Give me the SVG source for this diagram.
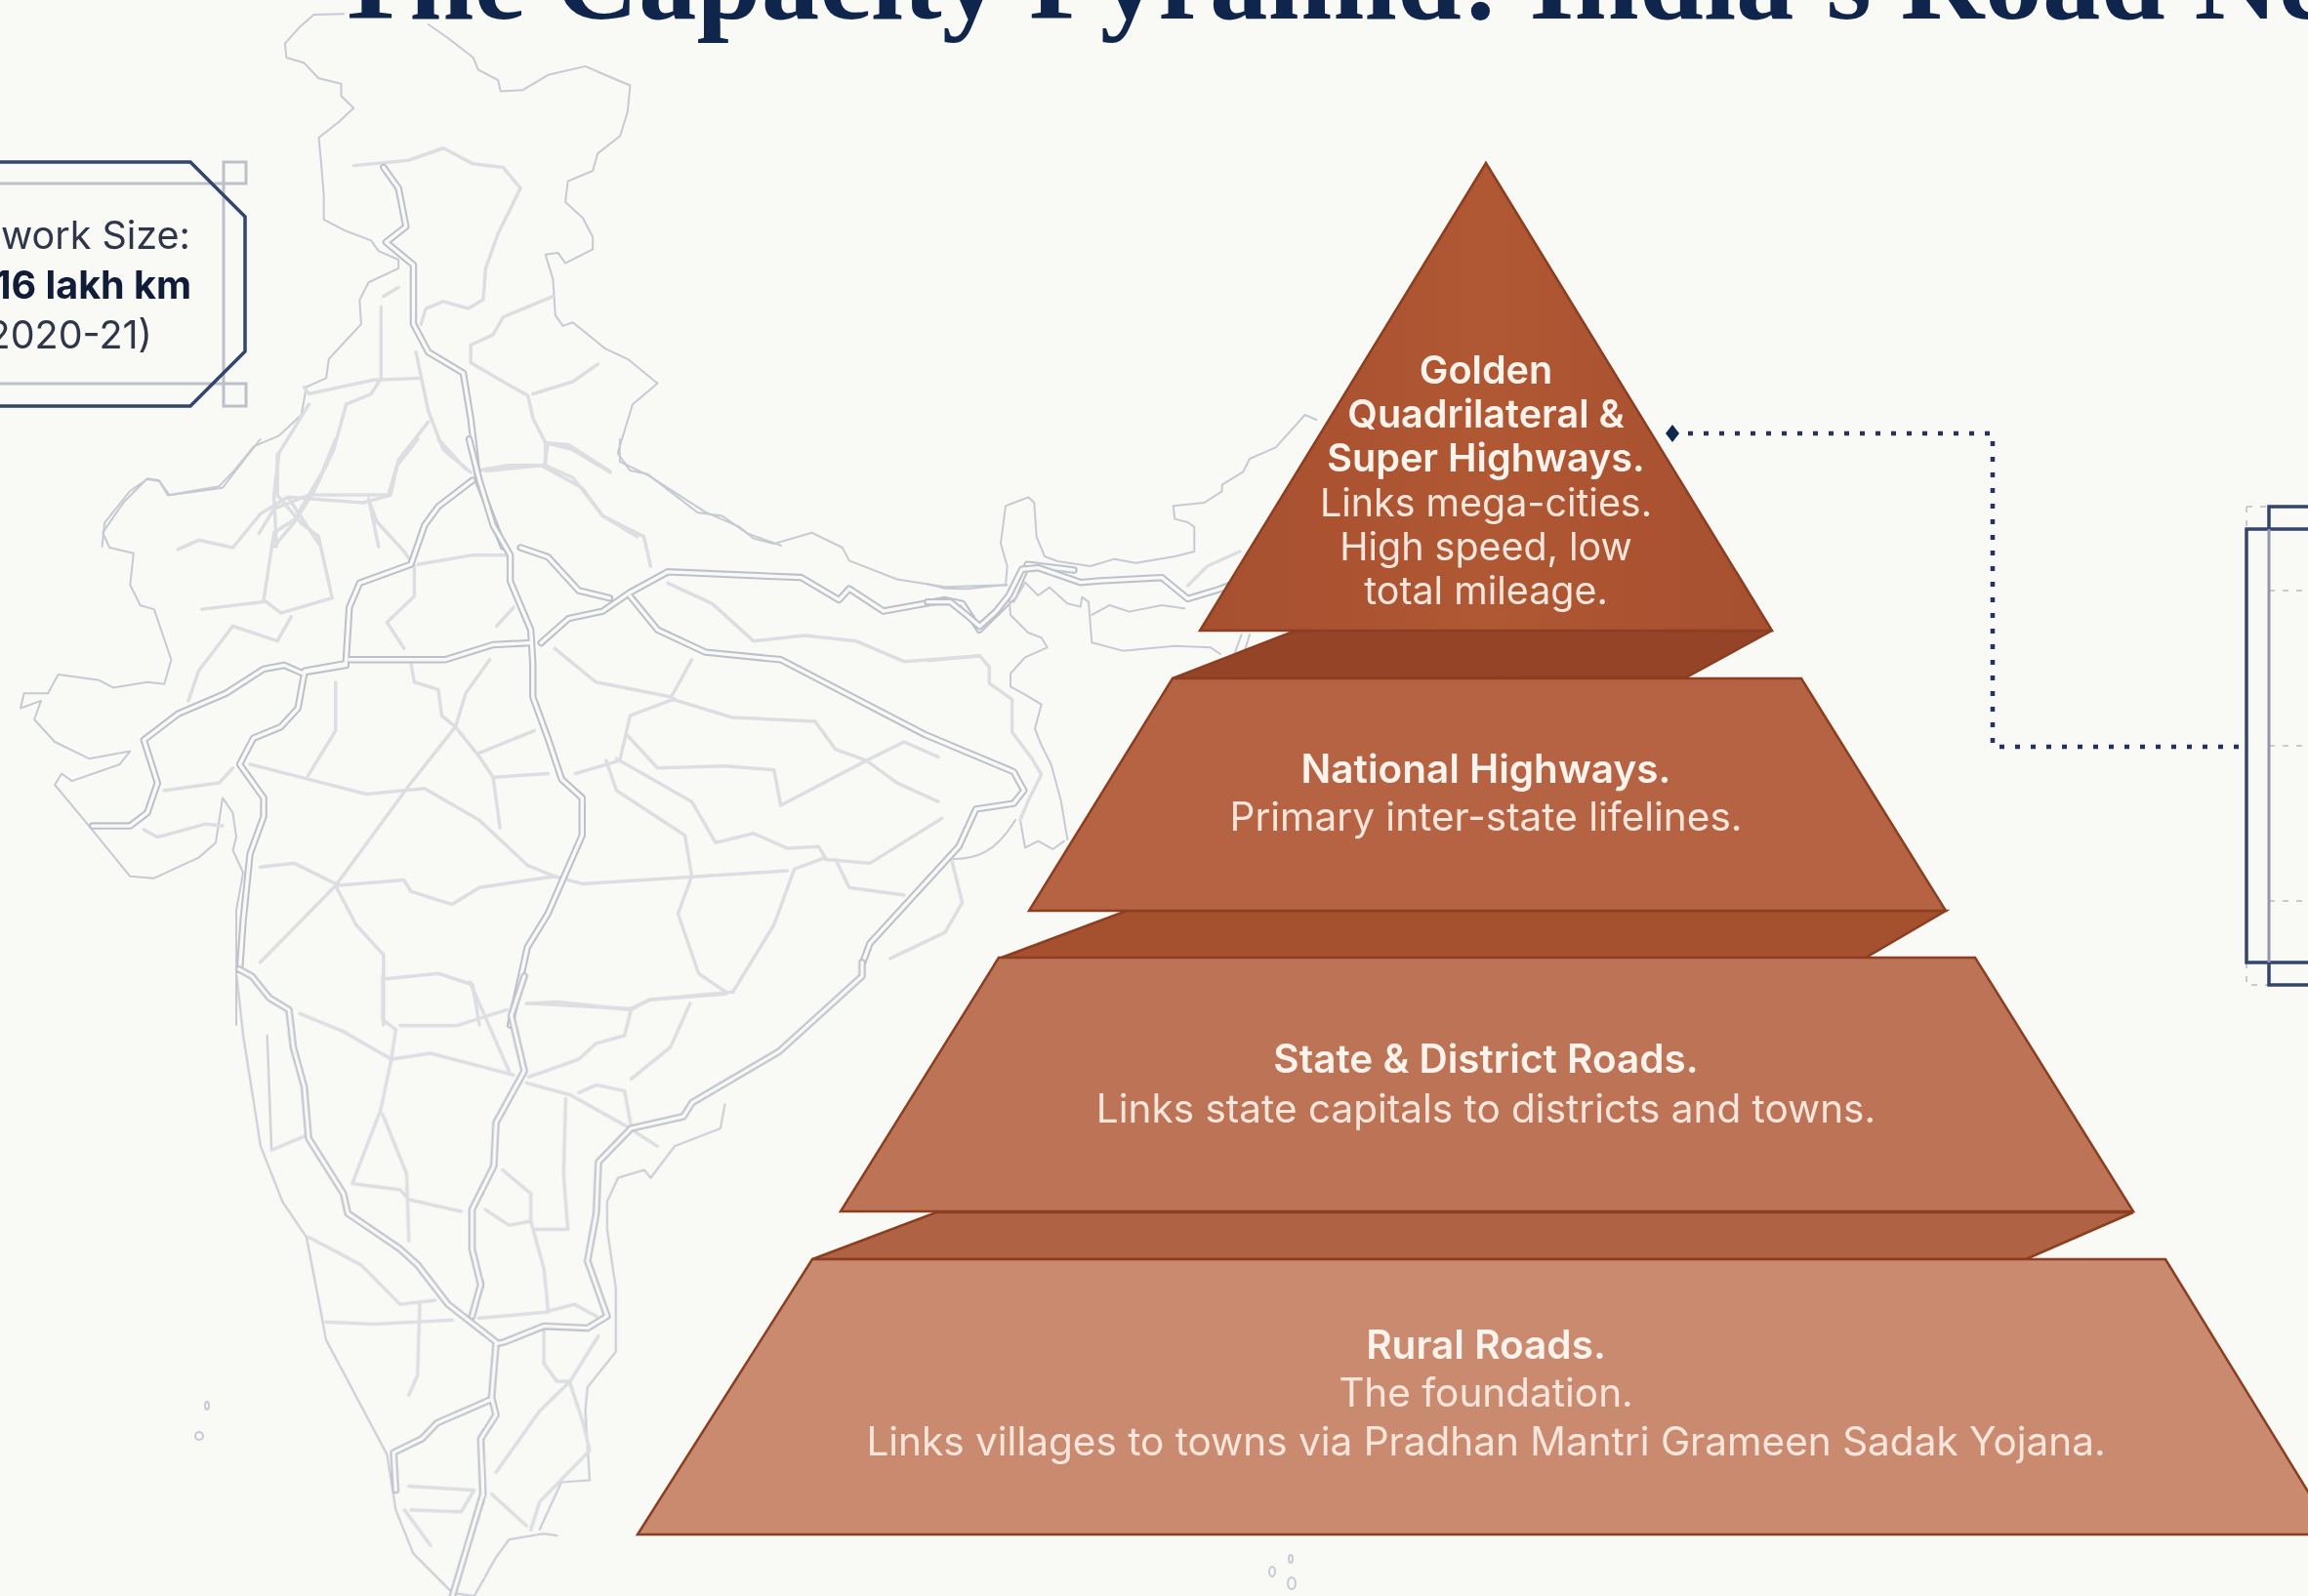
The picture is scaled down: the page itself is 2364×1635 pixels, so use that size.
<svg xmlns="http://www.w3.org/2000/svg" xmlns:xlink="http://www.w3.org/1999/xlink" width="2364" height="1635" viewBox="0 0 2364 1635">
<style>
.map path,.rd path{fill:none;stroke-linejoin:round;stroke-linecap:round;vector-effect:non-scaling-stroke}
.ol path{stroke:#c6cad2;stroke-width:2}
.th path{stroke:#dcdee2;stroke-width:3.5}
.t{font-family:Inter,"Liberation Sans",sans-serif;font-size:40.5px;text-anchor:middle}
.t1{font-size:39.4px}
.b{font-weight:600;fill:#fcf3ed;font-size:40.5px}
.b.t1{font-size:39.6px}
.r{fill:#f8e6dc}
.tier{stroke:#8b3e20;stroke-width:2.5;stroke-linejoin:miter}
.c{font-family:Inter,"Liberation Sans",sans-serif;font-size:39.5px;text-anchor:end;fill:#2e3648}
.cb{font-weight:700;fill:#101c38}
.lg{fill:none;stroke:#bcc0c8;stroke-width:3}
.nv{fill:none;stroke:#33456b;stroke-width:3.5}
.dl{fill:none;stroke:#c9cbce;stroke-width:2;stroke-dasharray:6 8}
</style>
<defs>
<filter id="soft" x="-2%" y="-2%" width="104%" height="104%"><feGaussianBlur stdDeviation="0.7"/></filter>
<marker id="dia" markerWidth="18" markerHeight="20" refX="9" refY="10" markerUnits="userSpaceOnUse"><path d="M9,1 L16,10 L9,19 L2,10 Z" fill="#10264f"/></marker>
<g id="hz1" class="rd"><path d="M770,480 L800,540 L815,650 L775,695 L830,760 L830,930 L860,1010 L930,1070 L945,1200 L960,1380 L1010,1568"/></g>
<g id="hz4" class="rd"><path d="M685,0 L700,110 L720,230 L745,310 L745,380 L775,510 L778,600 L778,690 L800,800 L820,910 L850,960 L850,1060 L800,1270 L770,1360 L745,1568"/><path d="M690,110 L640,180 L620,230 L600,335 L525,385 L510,450 L505,600 L445,620 L435,720 L410,770 L370,800 L350,870 L385,960 L385,1010 L365,1110 L355,1290 L350,1420"/><path d="M510,590 L650,590 L720,550 L775,545"/><path d="M790,545 L830,480 L880,460 L920,410 L975,355 L1170,370 L1225,430 L1240,400 L1290,460 L1380,430 L1405,440 L1430,510 L1480,420 L1500,335 L1568,350"/><path d="M760,290 L800,315 L845,405 L890,425"/><path d="M920,420 L960,510 L1030,570 L1140,590 L1350,790 L1480,890 L1495,940 L1480,975 L1425,990 L1400,1090 L1270,1350 L1260,1400"/><path d="M505,605 L440,625 L415,605 L385,615 L330,680 L260,735 L210,805 L230,920 L215,1000 L190,1035 L135,1035"/></g>
<g id="hz5" class="rd"><path d="M100,-18 L130,0 L170,55 L215,85 L225,180 L250,280 L260,410 L340,550 L350,600 L470,690 L510,730 L580,830 L690,925"/><path d="M755,0 L725,100 L755,240 L690,370 L685,480 L635,590 L635,690 L655,780 L635,860"/><path d="M1530,-35 L1530,0 L1340,190 L1140,320 L1120,355 L1000,385 L925,470 L920,600 L900,720 L945,860 L900,890 L800,885 L710,925 L690,930 L680,1065 L690,1110 L655,1170 L660,1310 L590,1568"/><path d="M680,1070 L555,1130 L520,1170 L455,1205 L460,1300"/></g>
<g id="hz9" class="rd"><path d="M0,650 L70,650 L120,690 L160,725 L210,680 L250,630 L290,550 L340,545 L470,590 L530,585 L720,575 L800,640 L900,610 L1000,570"/></g>
<linearGradient id="g1" x1="0" y1="0" x2="1" y2="0"><stop offset="0" stop-color="#a75030"/><stop offset=".5" stop-color="#b05733"/><stop offset="1" stop-color="#a75030"/></linearGradient>
</defs>
<rect id="paper" width="2364" height="1635" fill="#f9f9f6"/>
<text id="title" x="340" y="19" font-family="Liberation Serif,serif" font-weight="700" font-size="119" fill="#10254c">The Capacity Pyramid: India's Road Ne</text>

<g id="map" class="map" filter="url(#soft)">
<g transform="scale(.5102,.3571)">
<g class="ol"><path d="M690,40 L630,42 L600,80 L572,125 L575,165 L610,180 L640,225 L685,240 L685,275 L710,310 L680,350 L640,395 L645,470 L650,560 L650,630 L690,660 L745,690 L760,720 L800,745 L800,770 L740,810 L722,860 L725,930 L660,1030 L655,1085 L615,1110 L605,1190 L560,1250 L510,1280 L470,1350 L440,1395 L340,1420 L320,1380 L295,1375 L260,1410 L210,1500 L205,1568"/><path d="M860,70 L900,110 L950,165 L960,200 L1000,230 L1005,262 L1050,258 L1100,215 L1175,190 L1215,215 L1265,245 L1260,320 L1245,390 L1200,440 L1190,490 L1140,520 L1135,580 L1170,625 L1190,680 L1190,715 L1135,755 L1120,725 L1095,730 L1110,800 L1115,905 L1130,935 L1150,925 L1215,1000 L1260,1030 L1320,1100 L1270,1160 L1240,1300 L1265,1350 L1300,1360 L1400,1470 L1450,1480 L1500,1530 L1568,1565"/></g>
<g class="th"><path d="M710,475 L820,460 L890,425 L950,470 L1010,480 L1045,540 L1000,670 L975,770 L970,860 L940,885 L890,865 L855,885 L845,930"/><path d="M1110,850 L1010,910 L990,960 L945,990 L945,1040 L1010,1095 L1060,1135 L1070,1200 L1095,1270 L1095,1335 L1020,1335 L960,1350"/><path d="M1070,1130 L1150,1095 L1200,1045"/><path d="M1095,1270 L1150,1290 L1225,1355"/><path d="M1095,1335 L1150,1370 L1210,1480 L1280,1540"/><path d="M835,1010 L860,1180 L890,1290 L945,1355"/><path d="M860,1210 L800,1320 L780,1420 L620,1420 L550,1460 L520,1530"/><path d="M610,1110 L620,1130 L750,1090 L840,1085"/><path d="M765,880 L765,1085 L745,1130 L695,1160 L670,1290 L630,1410 L590,1500 L550,1568"/><path d="M580,1430 L640,1560"/><path d="M620,1160 L560,1300 L550,1420 L555,1568"/><path d="M740,1430 L760,1568"/><path d="M770,850 L800,825"/></g>
<use href="#hz1" stroke="#bcc1cb" stroke-width="7.5"/><use href="#hz1" stroke="#f9f9f6" stroke-width="3.4"/>
</g>
<g transform="translate(0,450) scale(.7015,.3827)">
<g class="ol"><path d="M905,0 L905,60 L945,95 L1030,195 L1080,235 L1100,265 L1130,280 L1185,250 L1230,290 L1240,325 L1310,375 L1380,395 L1470,390"/><path d="M380,0 L350,70 L325,130 L245,150 L232,110 L215,105 L180,170 L150,250 L160,290 L195,305 L190,390 L205,445 L225,455 L250,590 L240,655 L215,650 L165,665 L145,645 L85,630 L70,680 L35,680 L30,720 L60,700 L50,750 L80,810 L130,855 L190,835 L175,870 L105,915 L90,895 L80,925 L130,1035 L190,1170 L225,1175 L290,1120 L315,1080 L325,960 L340,1000 L345,1065 L340,1100 L355,1160 L345,1260 L345,1568"/></g>
<g class="th"><path d="M405,40 L405,150 L440,225"/><path d="M490,0 L470,90 L430,215 L400,250 L385,430 L410,465 L485,425 L465,260 L440,225"/><path d="M260,295 L290,270 L340,290 L380,200 L420,155 L530,170 L570,150 L580,70 L610,0"/><path d="M540,170 L550,220 L590,300 L605,340 L605,420 L565,490 L590,560"/><path d="M295,455 L385,435"/><path d="M275,700 L290,620 L340,500 L405,540 L425,475"/><path d="M610,335 L690,310 L740,310"/><path d="M640,0 L680,80"/><path d="M710,85 L790,70 L850,130 L880,205 L940,260 L950,340"/><path d="M795,70 L800,10 L830,15 L890,85"/><path d="M975,385 L1040,440 L1100,540 L1175,525 L1250,540 L1320,595 L1430,580"/><path d="M810,560 L870,650 L980,690 L1010,590"/><path d="M980,695 L1070,745 L1190,755 L1220,830 L1265,860 L1310,920 L1370,970"/><path d="M985,695 L920,740 L905,860 L840,895"/><path d="M1265,860 L1140,980"/><path d="M1265,860 L1320,810 L1370,850"/><path d="M915,790 L960,880 L1060,875 L1130,885 L1140,980"/><path d="M885,860 L900,940 L1000,1060 L1010,1170 L990,1270 L1020,1430 L1060,1480"/><path d="M900,855 L1010,970 L1045,1080 L1100,1055 L1150,1095 L1195,1090 L1205,1120 L1160,1150 L1130,1300 L1070,1480"/><path d="M1205,1125 L1270,1135 L1375,1015"/><path d="M1220,1125 L1240,1200 L1320,1220"/><path d="M1150,1155 L850,1190 L810,1170 L700,1200 L660,1245 L600,1210 L590,1180 L490,1195"/><path d="M600,600 L605,650 L640,670 L645,740 L665,770 L700,850 L720,905 L730,1040"/><path d="M720,905 L800,895"/><path d="M700,840 L780,780"/><path d="M725,500 L750,450"/><path d="M715,590 L680,680 L665,770 L600,920 L540,1070 L490,1195 L380,1400"/><path d="M365,870 L440,905 L535,950 L620,935 L700,1020 L770,1140 L810,1170"/><path d="M490,650 L490,780 L450,900"/><path d="M380,1145 L430,1135 L490,1190"/><path d="M490,1195 L520,1300 L560,1380 L560,1568"/><path d="M560,1445 L640,1430 L690,1460 L700,1568"/><path d="M770,1510 L920,1525 L950,1500 L1060,1485"/><path d="M240,940 L320,920 L340,880"/><path d="M210,1045 L230,1065 L300,1030 L325,1035"/><path d="M1390,1130 L1405,1240 L1380,1320 L1300,1390"/></g>
<use href="#hz4" stroke="#bcc1cb" stroke-width="7.5"/><use href="#hz4" stroke="#f9f9f6" stroke-width="3.4"/>
</g>
<g transform="translate(200,1000) scale(.4464,.405)">
<g class="ol"><path d="M95,0 L110,150 L150,430 L200,570 L255,660 L285,830 L300,920 L440,1210 L460,1350 L500,1460 L590,1560 L640,1568 L690,1470 L720,1425 L800,1410 L830,1415"/><path d="M1215,325 L1205,385 L1100,430 L1045,510 L1030,490 L970,510 L945,570 L945,640 L965,790 L965,950 L900,1040 L895,1100 L905,1275 L840,1280 L790,1400"/><path d="M165,150 L175,440"/></g>
<g class="th"><path d="M240,95 L340,140 L450,210 L540,195 L730,250"/><path d="M430,0 L430,110 L460,135 L450,210 L425,340 L360,525 L470,540 L490,565 L610,595"/><path d="M430,350 L485,500 L490,670"/><path d="M470,125 L600,125 L715,85"/><path d="M630,15 L720,240"/><path d="M760,70 L830,65 L1000,85 L1040,60 L1230,40"/><path d="M1000,85 L985,150 L920,170 L880,210 L765,255"/><path d="M1135,70 L1090,180 L1000,260"/><path d="M760,270 L860,300 L990,380 L1060,430"/><path d="M880,295 L920,275 L985,290 L1000,380"/><path d="M850,310 L845,500 L855,640 L780,640"/><path d="M665,590 L720,630 L770,620 L800,740 L810,850"/><path d="M705,490 L770,550 L770,620"/><path d="M260,660 L380,730 L470,830 L550,820"/><path d="M300,875 L410,880 L590,870"/><path d="M515,830 L510,1010 L490,1060"/><path d="M650,865 L800,850 L870,830 L920,860"/><path d="M800,890 L800,980 L830,1025 L860,1025 L925,910"/><path d="M860,1025 L790,1100 L690,1255"/><path d="M860,1030 L890,1130 L905,1200 L790,1330 L770,1400"/><path d="M490,1290 L640,1300 L610,1355 L495,1350"/><path d="M680,1310 L760,1390"/><path d="M480,1350 L540,1440"/><path d="M175,440 L250,405"/></g>
<use href="#hz5" stroke="#bcc1cb" stroke-width="7.5"/><use href="#hz5" stroke="#f9f9f6" stroke-width="3.4"/>
</g>
<g transform="translate(950,400) scale(.3333)">
<g class="ol"><path d="M240,600 L245,540 L225,470 L240,355 L310,328 L328,345 L335,450 L360,510 L400,525 L500,540 L575,518 L640,530 L760,510 L820,495 L820,420 L800,405 L760,395 L755,355 L850,345 L905,310 L905,290 L970,250 L990,210 L1070,175 L1160,75 L1195,90"/><path d="M0,595 L50,608 L120,610 L240,597"/><path d="M250,620 L255,690 L310,745 L350,760 L368,790 L300,820 L255,870 L255,910 L300,935 L350,965 L330,1040 L350,1090 L380,1150 L410,1260 L430,1380"/><path d="M285,1320 L300,1405 L340,1385 L385,1410 L420,1385"/><path d="M265,650 L300,590 L340,630 L375,605 L430,655 L470,665 L475,635 L495,650 L505,775 L600,800 L760,785 L870,790 L900,810"/><path d="M505,690 L560,660 L620,680 L720,660 L790,670"/><path d="M965,750 L945,805"/><path d="M990,750 L975,800"/><path d="M80,1440 C150,1440 210,1420 270,1320"/></g>
<g class="th"><path d="M0,830 L160,815 L190,850 L190,900 L260,950 L260,1050 L320,1130 L350,1180 L310,1260 L285,1320"/><path d="M800,600 L860,540 L960,495"/></g>
<use href="#hz9" stroke="#bcc1cb" stroke-width="7.5"/><use href="#hz9" stroke="#f9f9f6" stroke-width="3.4"/>
</g>
<g id="islands" fill="none" stroke="#c6cad2" stroke-width="2"><ellipse cx="1322" cy="1597" rx="2" ry="4"/><ellipse cx="1303" cy="1610" rx="3" ry="5"/><ellipse cx="1323" cy="1622" rx="4" ry="6"/><ellipse cx="212" cy="1440" rx="2" ry="4"/><ellipse cx="204" cy="1471" rx="4" ry="4"/></g>
</g>

<g id="connectors">
<path d="M1713,444 H2041 V765 H2301" fill="none" stroke="#1f3460" stroke-width="4.5" stroke-dasharray="5 11" marker-start="url(#dia)"/>
</g>

<g id="callout-network-size">
<path class="lg" d="M0,188 H229 V393 H0"/><rect class="lg" x="229" y="166" width="23" height="22"/><rect class="lg" x="229" y="393" width="23" height="23"/>
<path class="nv" d="M0,166 H195 L251,222 V360 L195,416 H0"/>
<text class="c" x="195" y="255">work Size:</text>
<text class="c cb" x="196" y="306">16 lakh km</text>
<text class="c" x="156" y="357">(2020-21)</text>
</g>

<g id="right-panel">
<path class="dl" d="M2301,519 H2324 M2301,519 V542 M2301,986 V1009 H2324 M2324,605 H2364 M2324,764 H2364 M2324,923 H2364"/>
<path class="nv" d="M2364,542 H2301 V986 H2364"/>
<path class="nv" d="M2364,519 H2324 V542 M2324,986 V1009 H2364"/>
<path d="M2324,542 V986" fill="none" stroke="#8e97ab" stroke-width="3"/>
</g>

<g id="tier-golden-quadrilateral">
<polygon class="tier" points="1327,646 1815,646 1727,694 1201,695" fill="#964427" stroke-width="1.5"/>
<polygon class="tier" points="1522,167 1815,646 1229,646" fill="url(#g1)"/>
<text class="t t1 b" x="1522" y="393">Golden</text>
<text class="t t1 b" x="1522" y="438">Quadrilateral &amp;</text>
<text class="t t1 b" x="1522" y="483">Super Highways.</text>
<text class="t t1 r" x="1522" y="529">Links mega-cities.</text>
<text class="t t1 r" x="1522" y="574">High speed, low</text>
<text class="t t1 r" x="1522" y="619">total mileage.</text>
</g>
<g id="tier-national-highways">
<polygon class="tier" points="1154,933 1993,933 1911,981 1023,982" fill="#a5512f" stroke-width="1.5"/>
<polygon class="tier" points="1201,695 1845,695 1993,933 1054,933" fill="#b66344"/>
<text class="t b" x="1522" y="802">National Highways.</text>
<text class="t r" x="1522" y="851">Primary inter-state lifelines.</text>
</g>
<g id="tier-state-district-roads">
<polygon class="tier" points="959,1242 2185,1242 2075,1290 832,1290" fill="#b06344" stroke-width="1.5"/>
<polygon class="tier" points="1023,981 2023,981 2185,1241 861,1241" fill="#bd7356"/>
<text class="t b" x="1522" y="1099">State &amp; District Roads.</text>
<text class="t r" x="1522" y="1150">Links state capitals to districts and towns.</text>
</g>
<g id="tier-rural-roads">
<polygon class="tier" points="832,1290 2218,1290 2391,1572 653,1572" fill="#ca8a70"/>
<text class="t b" x="1522" y="1392">Rural Roads.</text>
<text class="t r" x="1522" y="1441">The foundation.</text>
<text class="t r" x="1522" y="1491">Links villages to towns via Pradhan Mantri Grameen Sadak Yojana.</text>
</g>
</svg>
